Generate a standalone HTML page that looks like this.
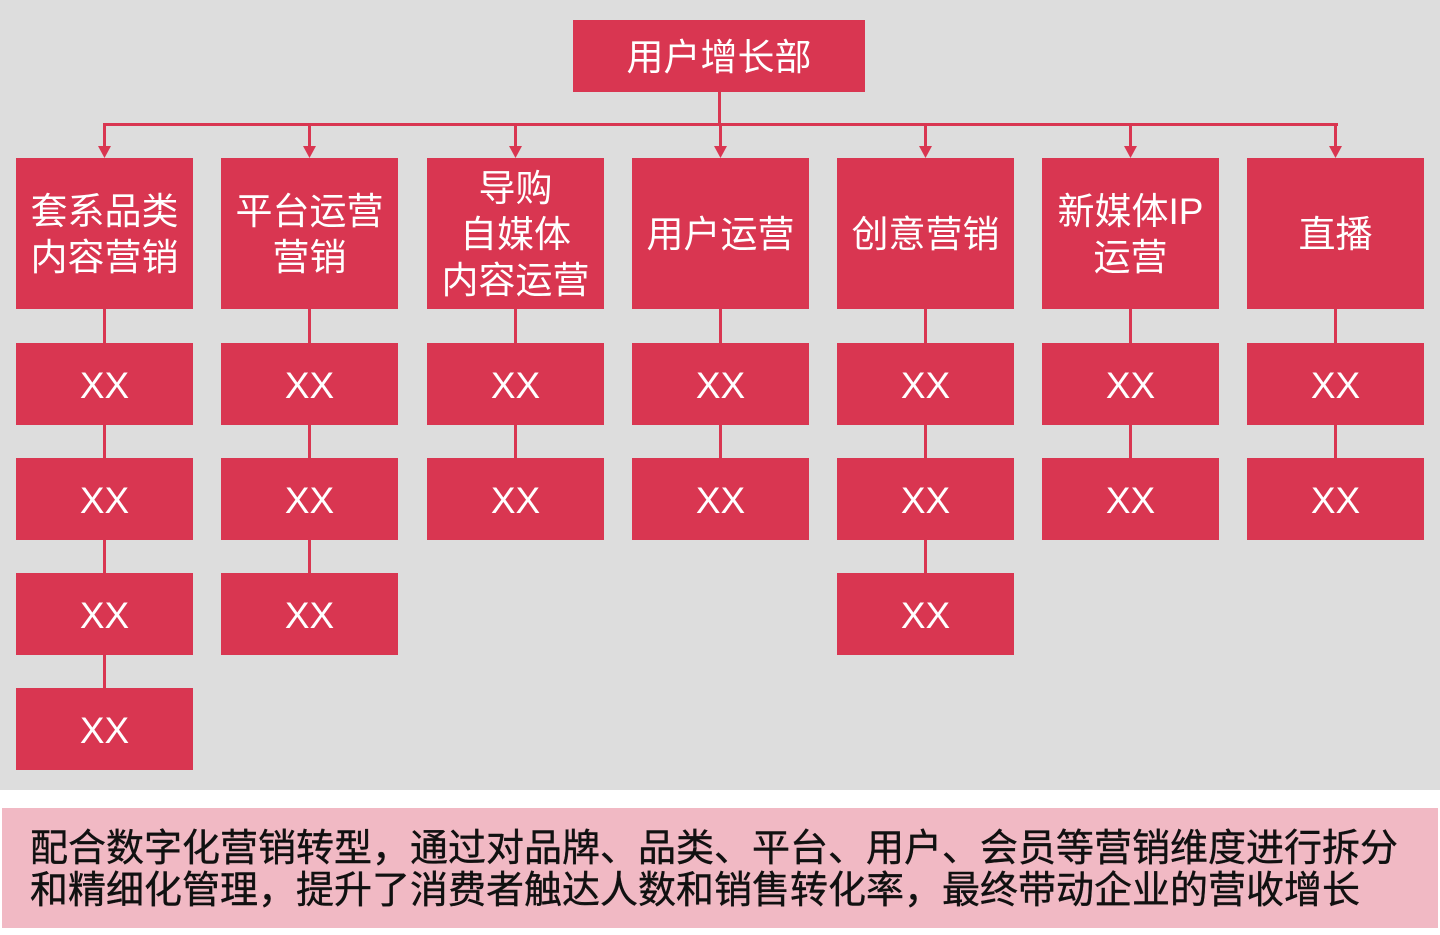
<!DOCTYPE html>
<html><head><meta charset="utf-8"><style>
body{margin:0;width:1440px;height:935px;background:#fff;position:relative;overflow:hidden;font-family:"Liberation Sans","Noto Sans CJK SC",sans-serif}
.bg{position:absolute;left:0;top:0;width:1440px;height:790px;background:#dddddd}
.b{position:absolute;background:#d93651;color:#fff;display:flex;align-items:center;justify-content:center;text-align:center;font-size:37px;line-height:46px;padding-top:3px;box-sizing:border-box}
.ln{position:absolute;background:#d93651}
.foot{position:absolute;left:2px;top:808px;width:1436px;height:120px;background:#f1b9c4;color:#111;font-size:38px;line-height:42px;padding:20px 0 0 28px;box-sizing:border-box;white-space:nowrap;-webkit-text-stroke:0.4px #111}
</style></head><body>
<div class="bg"></div>
<div id="c"></div>
<div class="foot">配合数字化营销转型，通过对品牌、品类、平台、用户、会员等营销维度进行拆分<br>和精细化管理，提升了消费者触达人数和销售转化率，最终带动企业的营收增长</div>
<script>
var c=document.getElementById('c'),h='';
h+='<div class="b" style="left:573px;top:20px;width:292px;height:72px">用户增长部</div>';
h+='<div class="ln" style="left:718px;top:92px;width:3px;height:34px"></div>';
h+='<div class="ln" style="left:103px;top:123px;width:1235px;height:3px"></div>';
var xs=[16,221,427,632,837,1042,1247];
var t=['套系品类<br>内容营销','平台运营<br>营销','导购<br>自媒体<br>内容运营','用户运营','创意营销','新媒体IP<br>运营','直播'];
var n=[4,3,2,2,3,2,2];
var ys=[343,458,573,688];
for(var i=0;i<7;i++){var x=xs[i],cx=x+88;
h+='<div class="ln" style="left:'+(cx-1)+'px;top:124px;width:3px;height:26px"></div>';
h+='<svg style="position:absolute;left:'+(cx-6)+'px;top:146px" width="13" height="12"><polygon points="0,0 13,0 6.5,12" fill="#d93651"/></svg>';
h+='<div class="b" style="left:'+x+'px;top:158px;width:177px;height:151px">'+t[i]+'</div>';
var last=ys[n[i]-1];
h+='<div class="ln" style="left:'+(cx-1)+'px;top:309px;width:3px;height:'+(last-309)+'px"></div>';
for(var j=0;j<n[i];j++)h+='<div class="b" style="left:'+x+'px;top:'+ys[j]+'px;width:177px;height:82px">XX</div>';
}
c.innerHTML=h;
</script>
</body></html>
